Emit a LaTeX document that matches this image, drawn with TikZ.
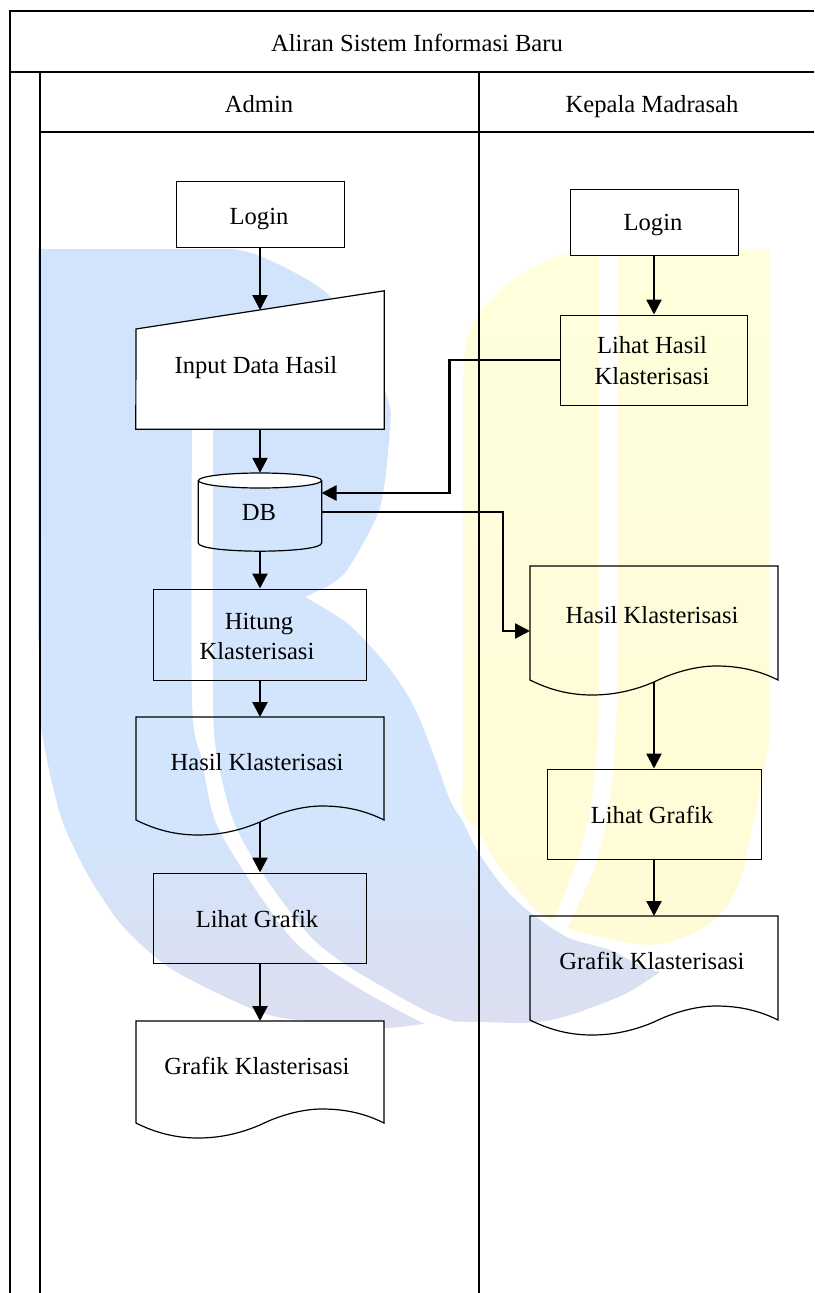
\documentclass[tikz,border=0pt]{standalone}
\usepackage{fontspec}
\setmainfont{Liberation Serif}
\usetikzlibrary{arrows.meta}
\definecolor{wmblue}{HTML}{D2E4FB}
\definecolor{wmbluemid}{HTML}{D3E5FC}
\definecolor{wmbluelow}{HTML}{D8E1F4}
\definecolor{wmblueend}{HTML}{DCDFF0}
\definecolor{wmyellow}{HTML}{FFFFDC}
\definecolor{wmyellowend}{HTML}{FFFBD6}
\pgfdeclareverticalshading{wmbshade}{100bp}{color(0bp)=(wmblueend); color(25bp)=(wmblueend); color(31bp)=(wmbluelow); color(38bp)=(wmbluemid); color(75bp)=(wmblue); color(100bp)=(wmblue)}
\tikzset{
  frameline/.style={line width=2pt,black},
  boxshape/.style={draw=black,line width=1pt,rectangle,inner sep=0pt,align=center,font=\fontsize{24.6}{30}\selectfont},
  whitebox/.style={boxshape,fill=white},
  ghost/.style={rectangle,inner sep=0pt,minimum width=248pt},
  outline/.style={draw=black,line width=1.2pt},
  label/.style={inner sep=0pt,anchor=base,font=\fontsize{24.6}{30}\selectfont},
  conn/.style={line width=2.4pt,-{Triangle[length=15pt,width=15pt]}},
}
% document shape: x, top, distance from top to the left end of the wave, fill
\newcommand{\wavepath}[4]{%
  \draw[outline,fill=#4] (#1,#2) -- (#1+248,#2) -- (#1+248,#2+#3)
   .. controls (#1+228,#2+#3-10) and (#1+208,#2+#3-14) .. (#1+186,#2+#3-14)
   .. controls (#1+165,#2+#3-14) and (#1+142,#2+#3-7) .. (#1+124,#2+#3+2)
   .. controls (#1+105,#2+#3+10) and (#1+85,#2+#3+15) .. (#1+62,#2+#3+15)
   .. controls (#1+40,#2+#3+15) and (#1+20,#2+#3+10) .. (#1,#2+#3) -- cycle;}
\begin{document}
\begin{tikzpicture}[x=1pt,y=-1pt]
\useasboundingbox (0,0) rectangle (814,1293);
% watermark
\shade[top color=wmyellow,bottom color=wmyellowend]
  (770,249) -- (592,249) -- plot[smooth,tension=0.5] coordinates {(592,249)(552,258)(510,282)(479,313)(465,347)(463,420)(463,600)(463,760)(463,810)(477,830)(500,867)(533,907)(560,925)(590,935)(650,945)(690,935)(720,915)(740,880)(755,815)(770,740)} -- cycle;
\fill[white] plot[smooth,tension=0.5] coordinates {(599,249)(599,500)(599,700)(592,800)(577,860)(557,912)(548,930)} -- plot[smooth,tension=0.5] coordinates {(565,932)(578,905)(597,860)(610,800)(617,700)(617,500)(617,249)} -- cycle;
\shade[shading=wmbshade]
  (38,249) -- (234,249) -- plot[smooth,tension=0.5] coordinates {(234,249)(265,258)(323,290)(365,340)(388,400)(390,427)(380,507)(347,570)(324,588)} -- (305,597)
  -- plot[smooth,tension=0.5] coordinates {(305,597)(347,623)(380,657)(400,683)(417,713)(433,753)(450,800)(463,822)(477,850)(500,883)(527,910)(567,937)(610,950)(643,967)(660,972)}
  -- plot[smooth,tension=0.5] coordinates {(660,972)(627,993)(593,1007)(560,1018)(527,1023)(480,1022)(440,1022)(380,1028)(297,1020)(263,1013)(217,993)(173,970)(147,950)(120,923)(97,890)(80,860)(63,823)(52,783)(42,733)(40,700)(38,600)} -- cycle;
\fill[white] plot[smooth,tension=0.5] coordinates {(192,425)(192,700)(202,760)(215,820)(243,870)(287,933)(320,963)(367,993)(417,1020)(445,1032)} -- plot[smooth,tension=0.5] coordinates {(455,1022)(428,1012)(393,993)(343,963)(307,933)(260,870)(233,820)(218,760)(213,700)(213,425)} -- cycle;
% frame
\draw[frameline] (814,11) -- (9.5,11) -- (9.5,1293);
\draw[frameline] (9.5,72) -- (814,72);
\draw[frameline] (40,72) -- (40,1293);
\draw[frameline] (40,131.5) -- (814,131.5);
\draw[frameline] (479,72) -- (479,1293);
\node[label] (title) at (417,51.5) {Aliran Sistem Informasi Baru};
\node[label] (admin) at (259,112) {Admin};
\node[label] (kepala) at (652,112) {Kepala Madrasah};
% Admin lane
\node[whitebox,minimum width=168pt,minimum height=66pt] (loginA) at (260,214) {};
\node[label] at (259,224) {Login};
\node[ghost,minimum height=138pt] (input) at (260,360) {};
\draw[outline,fill=white] (input.south west) -- (input.south east) -- (input.north east) -- (136,329) -- cycle;
\coordinate (inputTop) at (260,310);
\node[label] (inputText) at (256,373) {Input Data Hasil};
\node[rectangle,inner sep=0pt,minimum width=123pt,minimum height=78pt] (db) at (260,512) {};
\draw[outline] (db.west |- 0,480.5) -- (db.west |- 0,543) .. controls (198.5,548) and (225,551) .. (db.south) .. controls (295,551) and (321.5,548) .. (db.east |- 0,543) -- (db.east |- 0,480.5);
\draw[outline,fill=white] (260,480.5) ellipse [x radius=61.5pt,y radius=7.5pt];
\node[label] at (259,520) {DB};
\coordinate (dbIn) at (321.5,493);
\node[boxshape,minimum width=213pt,minimum height=91pt] (hitung) at (260,634.5) {};
\node[label] at (259,629) {Hitung};
\node[label] at (257,659) {Klasterisasi};
\node[ghost,minimum height=105pt,anchor=north] (hasilA) at (260,717) {};
\wavepath{136}{717}{103}{none}
\node[label] (hasilAText) at (257,770) {Hasil Klasterisasi};
\node[boxshape,minimum width=213pt,minimum height=90pt] (grafikA) at (260,918) {};
\node[label] at (257,927) {Lihat Grafik};
\node[ghost,minimum height=105pt,anchor=north] (grafikDocA) at (260,1021) {};
\wavepath{136}{1021}{102}{white}
\node[label] (grafikAText) at (257,1074) {Grafik Klasterisasi};
% Kepala lane
\node[whitebox,minimum width=168pt,minimum height=66pt] (loginK) at (654,222) {};
\node[label] at (653,230.5) {Login};
\node[boxshape,minimum width=187pt,minimum height=90pt] (lihatHasil) at (654,360) {};
\node[label] at (652,353) {Lihat Hasil};
\node[label] at (652,384) {Klasterisasi};
\node[ghost,minimum height=116pt,anchor=north] (hasilK) at (654,566) {};
\wavepath{530}{566}{114}{none}
\coordinate (hasilKIn) at (530,631);
\node[label] (hasilKText) at (652,623) {Hasil Klasterisasi};
\node[boxshape,minimum width=214pt,minimum height=90pt] (grafikK) at (654,814) {};
\node[label] at (652,823) {Lihat Grafik};
\node[ghost,minimum height=106pt,anchor=north] (grafikDocK) at (654,916) {};
\wavepath{530}{916}{104}{none}
\node[label] (grafikKText) at (652,969) {Grafik Klasterisasi};
% connectors
\draw[conn] (loginA.south) -- (inputTop);
\draw[conn] (input.south) -- (db.north);
\draw[conn] (db.south) -- (hitung.north);
\draw[conn] (hitung.south) -- (hasilA.north);
\draw[conn] (hasilA.south) -- (grafikA.north);
\draw[conn] (grafikA.south) -- (grafikDocA.north);
\draw[conn] (loginK.south) -- (lihatHasil.north);
\draw[conn] (lihatHasil.west) -- (449.5,360) -- (449.5,493) -- (dbIn);
\draw[conn] (db.east) -- (503,512) -- (503,631) -- (hasilKIn);
\draw[conn] (hasilK.south) -- (grafikK.north);
\draw[conn] (grafikK.south) -- (grafikDocK.north);
\end{tikzpicture}
\end{document}
